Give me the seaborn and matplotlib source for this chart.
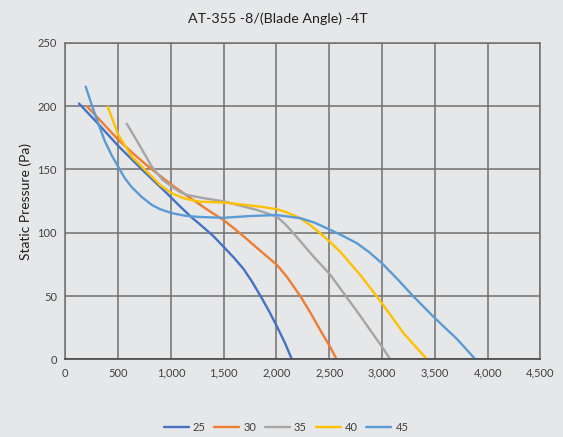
import matplotlib
matplotlib.use("Agg")
import matplotlib.pyplot as plt
import seaborn as sns
import pandas as pd

# ---- data ----
x_25 = [130, 300, 502, 750, 945, 1089, 1198, 1277, 1400, 1498, 1600, 1687, 1760, 1846, 1930, 2004, 2080, 2146]
y_25 = [202, 187, 168.5, 148, 132.5, 120.6, 112, 106.5, 97.5, 89, 80, 71.5, 62.5, 50.5, 38, 26, 13, 0]

x_30 = [203, 350, 502, 650, 787, 1008, 1089, 1200, 1340, 1498, 1600, 1719, 1850, 2004, 2100, 2225, 2320, 2414, 2500, 2570]
y_30 = [200, 187, 173.3, 162, 152.2, 137.8, 133, 126.5, 118.5, 110, 103.3, 95, 85.5, 74.6, 65, 50, 37, 23.2, 11, 0]

x_35 = [582, 692, 819, 920, 1008, 1089, 1150, 1261, 1498, 1814, 2004, 2080, 2161, 2351, 2503, 2630, 2762, 2880, 2999, 3078]
y_35 = [186, 170.7, 152.2, 142, 136.4, 132, 130, 128, 124.8, 118, 112.7, 107, 99.6, 81.1, 67.5, 53, 38, 24, 10, 0]

x_40 = [401, 502, 629, 787, 900, 1008, 1130, 1261, 1514, 1846, 2004, 2100, 2225, 2320, 2414, 2510, 2604, 2800, 2999, 3204, 3426]
y_40 = [199.6, 177.3, 160.1, 147, 137.5, 131.2, 127, 124.6, 123.8, 120.6, 118.6, 116, 111.5, 106, 99.6, 92.5, 85, 66, 44.3, 20.6, 0]

x_45 = [193, 250, 313, 376, 440, 502, 560, 629, 720, 819, 900, 1008, 1130, 1261, 1498, 1750, 2004, 2225, 2360, 2503,
        2630, 2762, 2880, 2999, 3150, 3299, 3501, 3710, 3884]
y_45 = [215.4, 201, 186, 172, 161, 152, 143.5, 136, 128.5, 122, 118.5, 115.5, 113.5, 112.5, 111.8, 113.2, 114, 111.5, 108, 102.5,
        97.5, 91.7, 84.5, 75.9, 63, 49.5, 32.5, 16, 0]

series_names = ["25", "30", "35", "40", "45"]
colors = ["#4472C4", "#ED7D31", "#A5A5A5", "#FFC000", "#5B9BD5"]

x_ticks = [0, 500, 1000, 1500, 2000, 2500, 3000, 3500, 4000, 4500]
y_ticks = [0, 50, 100, 150, 200, 250]

title = "AT-355 -8/(Blade Angle) -4T"
y_label = "Static Pressure (Pa)"

# ---- build long table ----
frames = []
for name, xs, ys in zip(series_names,
                        [x_25, x_30, x_35, x_40, x_45],
                        [y_25, y_30, y_35, y_40, y_45]):
    frames.append(pd.DataFrame({"flow": xs, "pressure": ys, "angle": name}))
df = pd.concat(frames, ignore_index=True)

bg = "#E6E7E9"
sns.set_theme(style="white")
plt.rcParams["font.family"] = ["Lato", "DejaVu Sans"]

fig = plt.figure(figsize=(5.63, 4.37), dpi=100, facecolor=bg)
ax = fig.add_axes([0.116, 0.1776, 0.844, 0.7245])
ax.set_facecolor(bg)

for name, c in zip(series_names, colors):
    sub = df[df["angle"] == name]
    sns.lineplot(data=sub, x="flow", y="pressure", color=c, linewidth=1.7,
                 sort=False, estimator=None, ax=ax, label=name)

ax.set_xlim(0, 4500)
ax.set_ylim(0, 250)
ax.set_xticks(x_ticks)
ax.set_yticks(y_ticks)
ax.set_xticklabels([f"{v:,}" for v in x_ticks], fontsize=8, color="#404040")
ax.set_yticklabels([str(v) for v in y_ticks], fontsize=8, color="#404040")
ax.tick_params(axis="both", length=0, pad=6)
ax.grid(True, color="#707070", linewidth=1.1)
ax.set_axisbelow(True)
for s in ["left", "top", "right"]:
    ax.spines[s].set_visible(True)
    ax.spines[s].set_color("#707070")
    ax.spines[s].set_linewidth(1.1)
ax.spines["bottom"].set_color("#505050")
ax.spines["bottom"].set_linewidth(1.3)

ax.set_xlabel("")
ax.set_ylabel(y_label, fontsize=10, color="#202020", labelpad=4)
fig.text(0.494, 0.958, title, ha="center", va="center", fontsize=10.3, color="#202020")

ax.legend(loc="center", bbox_to_anchor=(0.508, 0.0225), bbox_transform=fig.transFigure,
          ncol=5, frameon=False, fontsize=8, handlelength=2.25, handletextpad=0.35,
          columnspacing=0.8, labelcolor="#404040")

fig.savefig("out.png", dpi=100, facecolor=bg)
